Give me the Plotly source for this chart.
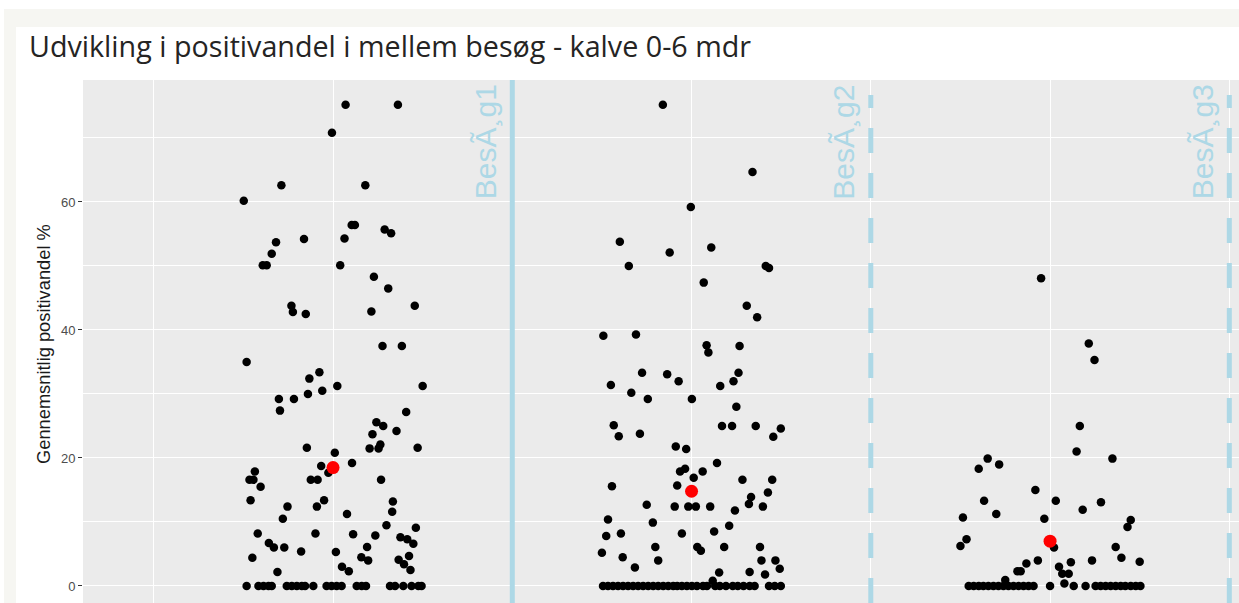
import plotly.graph_objects as go

# ---------------- data ----------------
group_positions = [1, 2, 3]
group_means = [18.5, 14.8, 7.0]
visit_lines = [1.5, 2.5, 3.5]
visit_labels = ["BesÃ¸g1", "BesÃ¸g2", "BesÃ¸g3"]
visit_dash = ["solid", "dash", "dash"]

g1_values = [75.2, 75.2, 70.8, 62.6, 62.6, 60.2, 56.4, 56.4, 55.7, 55.1, 53.7, 54.2, 54.3, 51.9,
             50.1, 50.1, 50.1, 48.3, 46.5, 43.8, 42.8, 42.5, 42.9, 43.8, 35.0, 37.5, 37.5, 32.4,
             33.4, 31.25, 31.25, 29.2, 29.2, 30.0, 30.5, 27.4, 27.2, 25.6, 25.0, 24.2, 23.7, 21.6,
             21.5, 21.5, 22.1, 21.6, 20.8, 18.75, 19.2, 17.7, 17.9, 16.6, 16.6, 15.5, 16.6, 16.6,
             16.6, 13.4, 12.4, 12.4, 13.4, 13.2, 10.5, 11.25, 11.6, 9.5, 9.1, 8.2, 8.2, 8.1, 7.9,
             7.6, 7.3, 6.6, 6.7, 6.0, 6.0, 6.1, 5.4, 5.3, 4.4, 4.5, 4.0, 4.7, 4.1, 3.4, 2.5, 3.0,
             2.3, 2.2] + [0] * 24
g1_jitter = [0.035, 0.181, -0.003, -0.144, 0.090, -0.249, 0.052, 0.061, 0.144, 0.162, -0.159,
             -0.081, 0.032, -0.171, -0.196, -0.185, 0.020, 0.114, 0.154, -0.116, -0.112, -0.076,
             0.107, 0.228, -0.241, 0.138, 0.192, -0.066, -0.038, 0.250, 0.012, -0.151, -0.109,
             -0.070, -0.030, -0.148, 0.204, 0.121, 0.140, 0.177, 0.110, -0.073, 0.102, 0.127,
             0.132, 0.236, 0.005, -0.033, 0.053, -0.013, -0.218, -0.233, -0.222, -0.202, -0.062,
             -0.043, 0.134, -0.230, -0.127, -0.045, -0.025, 0.167, -0.140, 0.039, 0.165, 0.149,
             0.231, -0.210, -0.049, 0.056, 0.118, 0.188, 0.207, 0.224, -0.179, -0.165, -0.136,
             0.095, -0.089, 0.008, -0.225, 0.079, 0.098, 0.212, 0.183, 0.198, 0.216, 0.025,
             0.044, -0.155,
             -0.241, -0.208, -0.194, -0.180, -0.171, -0.129, -0.115, -0.101, -0.087, -0.078,
             -0.055, -0.018, -0.004, 0.010, 0.024, 0.066, 0.080, 0.092, 0.159, 0.173, 0.196,
             0.219, 0.238, 0.247]

g2_values = [75.2, 64.7, 59.2, 53.8, 52.1, 52.9, 50.0, 50.0, 49.7, 47.4, 43.8, 42.0, 39.1, 39.3,
             37.6, 36.5, 37.5, 33.3, 33.1, 32.0, 31.4, 31.25, 32.0, 33.3, 30.2, 29.2, 29.2, 28.0,
             25.1, 23.4, 23.8, 25.0, 25.0, 25.0, 24.6, 23.3, 21.8, 21.4, 19.2, 17.9, 18.3, 17.9,
             16.9, 15.6, 15.7, 16.6, 16.6, 14.6, 13.9, 12.8, 12.4, 11.8, 12.7, 12.4, 12.4, 12.4,
             12.4, 10.4, 9.9, 9.4, 8.5, 7.8, 8.2, 8.2, 6.1, 6.1, 5.5, 6.1, 6.1, 5.2, 4.5, 4.0,
             4.0, 4.0, 2.7, 1.8, 2.2, 2.1, 2.9, 0.8] + [0] * 33
g2_jitter = [-0.080, 0.170, -0.002, -0.200, -0.061, 0.055, -0.175, 0.207, 0.216, 0.034, 0.154,
             0.183, -0.246, -0.155, 0.042, 0.047, 0.134, -0.138, -0.068, -0.036, -0.225, 0.080,
             0.117, 0.131, -0.168, -0.122, 0.001, 0.125, -0.217, -0.203, -0.144, 0.085, 0.113,
             0.179, 0.249, 0.228, -0.044, -0.015, 0.071, -0.032, -0.018, 0.031, 0.006, -0.222,
             -0.040, 0.142, 0.225, 0.213, 0.166, 0.160, 0.199, 0.121, -0.125, -0.047, -0.009,
             0.012, 0.052, -0.233, -0.108, 0.105, 0.063, -0.238, -0.197, -0.027, -0.101, 0.016,
             0.026, 0.091, 0.191, -0.250, -0.192, -0.093, 0.195, 0.234, 0.246, 0.205, 0.162,
             0.077, -0.158, 0.059,
             -0.247, -0.233, -0.219, -0.205, -0.191, -0.177, -0.163, -0.149, -0.135, -0.121,
             -0.107, -0.093, -0.079, -0.065, -0.051, -0.040, -0.027, -0.013, 0.001, 0.015,
             0.032, 0.043, 0.066, 0.079, 0.096, 0.115, 0.129, 0.145, 0.162, 0.176, 0.216,
             0.232, 0.249]

g3_values = [48.1, 37.9, 35.3, 25.0, 21.0, 19.9, 19.0, 18.3, 19.9, 15.0, 13.3, 13.3, 13.1, 11.25,
             11.9, 10.7, 10.5, 10.3, 9.2, 7.3, 6.25, 6.0, 6.1, 4.0, 4.4, 4.0, 3.8, 3.5, 2.3, 2.3,
             3.0, 3.7, 1.9, 1.9, 0.94, 0.4] + [0] * 27
g3_jitter = [-0.025, 0.108, 0.124, 0.083, 0.074, -0.174, -0.142, -0.199, 0.174, -0.041, -0.184,
             0.016, 0.142, -0.150, 0.091, -0.243, -0.016, 0.225, 0.216, -0.233, -0.250, 0.011,
             0.183, -0.034, 0.199, 0.117, 0.250, -0.066, -0.091, -0.082, 0.025, 0.058, 0.034,
             0.052, -0.125, 0.040,
             -0.227, -0.213, -0.199, -0.186, -0.172, -0.158, -0.144, -0.130, -0.116, -0.102,
             -0.088, -0.074, -0.060, -0.046, 0.000, 0.066, 0.099, 0.127, 0.141, 0.155, 0.169,
             0.183, 0.197, 0.210, 0.225, 0.239, 0.252]

y_ticks = [0, 20, 40, 60]
title_text = "Udvikling i positivandel i mellem besøg - kalve 0-6 mdr"
y_title = "Gennemsnitlig positivandel %"

# ---------------- figure ----------------
W, H = 1239, 603
ML, MT = 83, 80
PW, PH = W - ML, H - MT
x_range = [0.3026, 3.527]
y_range = [-2.66, 79.06]


def px_x(px):
    return (px - ML) / PW


def px_y(py):
    return (H - py) / PH


fig = go.Figure()

groups = [(g1_jitter, g1_values), (g2_jitter, g2_values), (g3_jitter, g3_values)]
for pos, (jit, vals) in zip(group_positions, groups):
    fig.add_trace(go.Scatter(
        x=[pos + j for j in jit], y=vals, mode="markers",
        marker=dict(color="black", size=8.5, line=dict(width=0)),
        showlegend=False, hoverinfo="y"))

fig.add_trace(go.Scatter(
    x=group_positions, y=group_means, mode="markers",
    marker=dict(color="#FF0000", size=13, line=dict(width=0)),
    showlegend=False, hoverinfo="y"))

shapes = []
# page frame (beige) around the white card
shapes.append(dict(type="rect", xref="paper", yref="paper", layer="below",
                   x0=px_x(4), x1=px_x(W), y0=px_y(27), y1=px_y(9),
                   fillcolor="#F6F6F2", line=dict(width=0)))
shapes.append(dict(type="rect", xref="paper", yref="paper", layer="below",
                   x0=px_x(4), x1=px_x(16), y0=px_y(H), y1=px_y(27),
                   fillcolor="#F6F6F2", line=dict(width=0)))

for xv, dash in zip(visit_lines, visit_dash):
    shapes.append(dict(type="line", xref="x", yref="y", layer="above",
                       x0=xv, x1=xv,
                       y0=y_range[0], y1=(y_range[1] if dash == "solid" else 76.72),
                       line=dict(color="#ADD8E6", width=5,
                                 dash=("solid" if dash == "solid" else "25px,20px"))))

annotations = []
for xv, lab in zip(visit_lines, visit_labels):
    annotations.append(dict(x=xv - 0.075, y=69.4, xref="x", yref="y", text=lab,
                            textangle=-90, showarrow=False, xanchor="center", yanchor="middle",
                            font=dict(family="Liberation Sans, Arial", size=30, color="#ADD8E6")))

annotations.append(dict(x=px_x(27), y=px_y(46), xref="paper", yref="paper", text=title_text,
                        showarrow=False, xanchor="left", yanchor="middle",
                        font=dict(family="Open Sans", size=28.7, color="#252423")))
annotations.append(dict(x=px_x(43), y=px_y(344), xref="paper", yref="paper", text=y_title,
                        showarrow=False, textangle=-90, xanchor="center", yanchor="middle",
                        font=dict(family="Liberation Sans, Arial", size=18.3, color="#1A1A1A")))

fig.update_layout(
    width=W, height=H,
    margin=dict(l=ML, r=0, t=MT, b=0, pad=0),
    paper_bgcolor="white", plot_bgcolor="#EBEBEB",
    shapes=shapes, annotations=annotations,
    xaxis=dict(range=x_range, showticklabels=False, ticks="", tick0=0, dtick=1,
               showgrid=True, gridcolor="white", gridwidth=1.2, zeroline=False,
               showline=False, fixedrange=True,
               minor=dict(tick0=0.5, dtick=1, showgrid=True, gridcolor="white",
                          gridwidth=0.6, ticks="")),
    yaxis=dict(range=y_range, tickvals=y_ticks, ticks="outside", ticklen=4, tickwidth=1,
               tickcolor="#333333", tickfont=dict(family="Liberation Sans, Arial", size=13,
                                                  color="#4D4D4D"),
               showgrid=True, gridcolor="white", gridwidth=1.2, zeroline=False,
               showline=False, fixedrange=True,
               minor=dict(tickvals=[10, 30, 50, 70], showgrid=True, gridcolor="white",
                          gridwidth=0.6, ticks="")),
)

fig.write_html("out.html", config={"displayModeBar": False},
               post_script="document.body.style.margin='0';document.body.style.padding='0';")
